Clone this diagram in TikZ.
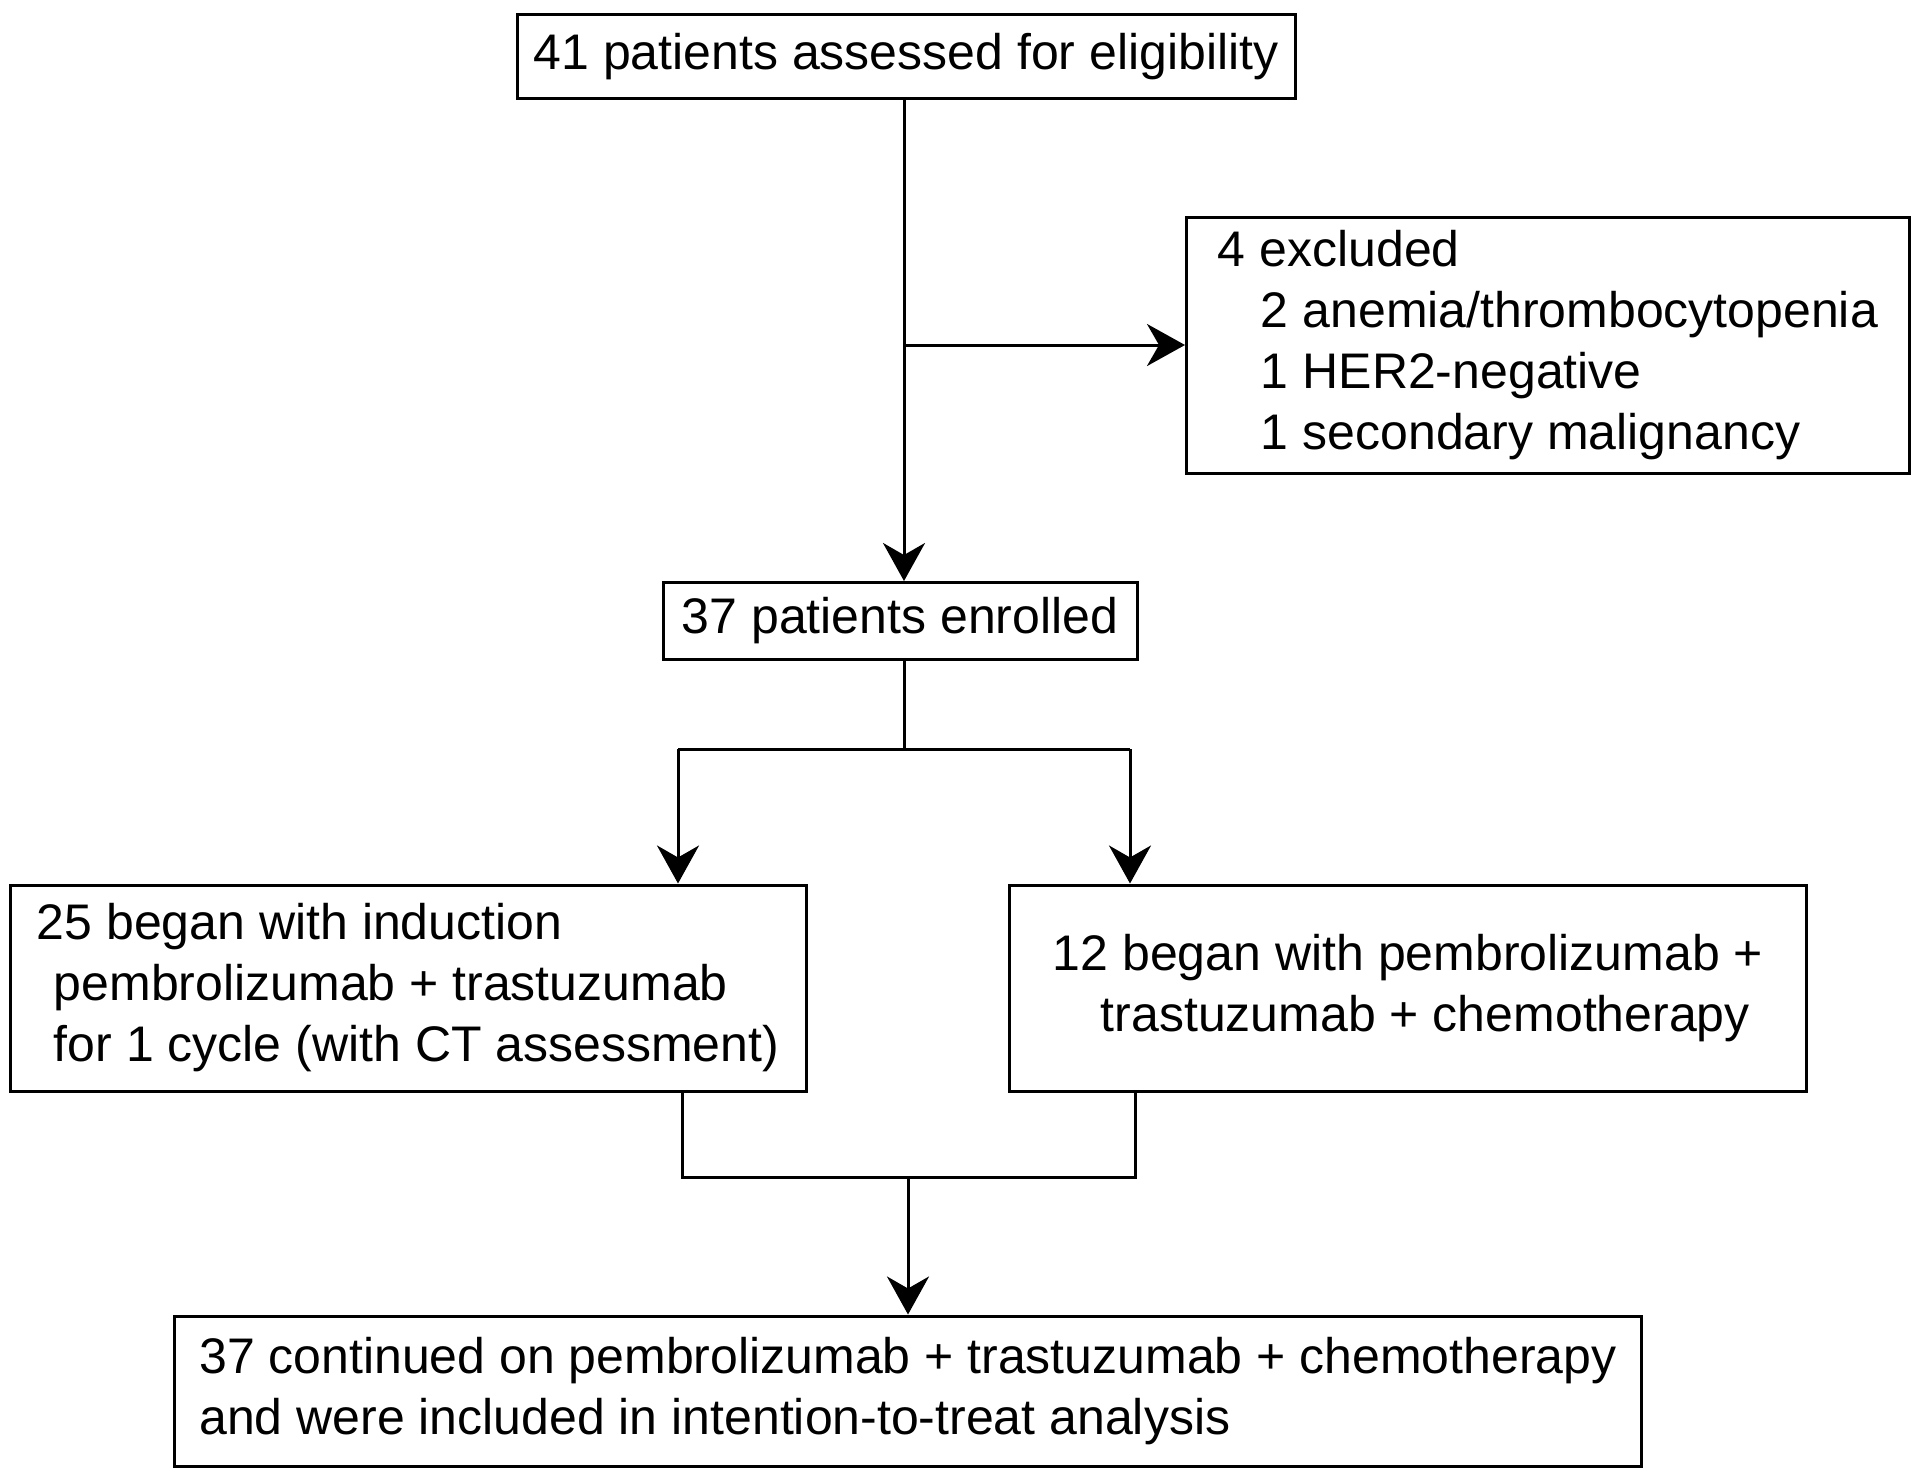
\documentclass[tikz,border=0pt]{standalone}
\usepackage{fontspec}
\setmainfont{Liberation Sans}
\usepackage{tikz}
\usetikzlibrary{arrows.meta, positioning}

\begin{document}
\begin{tikzpicture}[x=1pt, y=-1pt,
            box/.style = {draw, line width=3pt, inner sep=0pt, align=left,
                          font=\fontsize{50}{61}\selectfont},
            arr/.style = {-{Stealth[length=38pt, width=42pt, inset=12pt]}},
            style = {line width=3pt}]
            \useasboundingbox (0,0) rectangle (1920,1477);
            \node (assessed) [box, minimum width=778pt, minimum height=84pt] at (906,57)
                {41 patients assessed for eligibility};
            \node (excluded) [box, minimum width=723pt, minimum height=256pt] at (1548,345)
                {4 excluded\\
                 \hspace*{43pt}2 anemia/thrombocytopenia\\
                 \hspace*{43pt}1 HER2-negative\\
                 \hspace*{43pt}1 secondary malignancy};
            \node (enrolled) [box, minimum width=474pt, minimum height=77pt] at (900,621)
                {37 patients enrolled};
            \node (induction) [box, minimum width=796pt, minimum height=206pt] at (408,988)
                {25 began with induction\\
                 \hspace*{17pt}pembrolizumab + trastuzumab\\
                 \hspace*{17pt}for 1 cycle (with CT assessment)};
            \node (combined) [box, minimum width=797pt, minimum height=206pt] at (1408,988)
                {12 began with pembrolizumab +\\
                 \hspace*{48pt}trastuzumab + chemotherapy};
            \node (continued) [box, minimum width=1467pt, minimum height=150pt] at (908,1391)
                {37 continued on pembrolizumab + trastuzumab + chemotherapy\\
                 and were included in intention-to-treat analysis};
            \coordinate (split) at (904,749);
            \coordinate (splitL) at (678,749);
            \coordinate (splitR) at (1130,749);
            \coordinate (mergeL) at (682,1177);
            \coordinate (mergeR) at (1135,1177);
            \coordinate (merge) at (908,1177);
            \draw[arr] (assessed.south -| split) -- (enrolled.north -| split);
            \draw[arr] (split |- excluded.west) -- (excluded.west);
            \draw (enrolled.south -| split) -- (split);
            \draw (splitL) -- (splitR);
            \draw[arr] (splitL) -- (induction.north -| splitL);
            \draw[arr] (splitR) -- (combined.north -| splitR);
            \draw (induction.south -| mergeL) -- (mergeL) -- (mergeR) -- (combined.south -| mergeR);
            \draw[arr] (merge) -- (continued.north -| merge);
\end{tikzpicture}
\end{document}
